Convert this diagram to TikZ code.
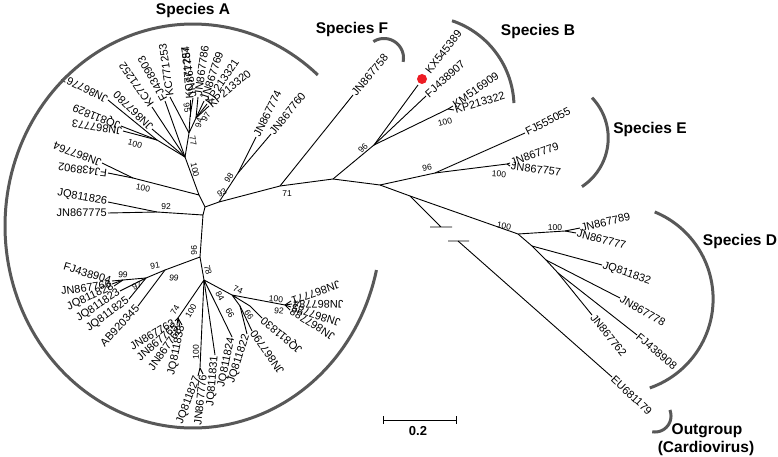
\documentclass[tikz,border=0pt]{standalone}
\usepackage{fontspec}
\setmainfont{Liberation Sans}
\usetikzlibrary{calc}
\definecolor{cladegray}{RGB}{88,88,88}
\definecolor{dotred}{RGB}{237,28,36}
\tikzset{br/.style={line width=0.9pt},
  leaf/.style={font=\fontsize{11}{12}\selectfont,inner sep=1pt},
  boot/.style={font=\fontsize{8.5}{10}\selectfont,inner sep=0pt},
  clade/.style={cladegray,line width=3pt},
  sp/.style={font=\fontsize{15.5}{17}\selectfont\bfseries,inner sep=0pt}}

\begin{document}
\begin{tikzpicture}[x=1pt,y=-1pt]
\useasboundingbox (0,0) rectangle (778,457);
% backbone
\coordinate (rA) at (205,207); \coordinate (n93) at (219,202); \coordinate (n98) at (238,173);
\coordinate (n71) at (280,186); \coordinate (nBE) at (333,179); \coordinate (n96B) at (374,145);
\coordinate (nKM) at (448,109); \coordinate (nE0) at (380,185); \coordinate (n96E) at (435,173);
\coordinate (n100E) at (507,164); \coordinate (nD0) at (410,196); \coordinate (nD) at (518,234);
\coordinate (nD100) at (565,231); \coordinate (nD1) at (532,246); \coordinate (nD2) at (546,260);
\coordinate (nD3) at (558,273);
\coordinate (b1) at (441,227); \coordinate (b1a) at (430,227); \coordinate (b1b) at (452,227);
\coordinate (b2) at (458,241); \coordinate (b2a) at (448,241); \coordinate (b2b) at (469,241);
% species A
\coordinate (nA1) at (199,195); \coordinate (nFJ) at (133,178); \coordinate (nA2) at (185,157);
\coordinate (nL) at (157,140); \coordinate (nA3) at (189,133); \coordinate (nA4) at (190,117);
\coordinate (nA5) at (196,118); \coordinate (nA6) at (203,215); \coordinate (n92) at (157,212);
\coordinate (n96) at (200,257); \coordinate (n91) at (165,270); \coordinate (n97) at (146,278);
\coordinate (n99) at (123,280); \coordinate (n78) at (204,280); \coordinate (n100L) at (178,318);
\coordinate (n100c) at (200,368); \coordinate (n84) at (214,300); \coordinate (n74) at (232,295);
\coordinate (n66a) at (240,306); \coordinate (n66b) at (250,306); \coordinate (nR2) at (285,305);

\draw[br] (rA)--(n93)--(n71)--(nBE)--(nE0)--(nD0)--(nD)--(nD100);
\draw[br] (n93)--(n98) (nBE)--(n96B)--(nKM) (nE0)--(n96E)--(n100E) (nD)--(nD1)--(nD2)--(nD3);
\draw[br] (nD0)--(b1) (b1a)--(b1b) (b2a)--(b2b);
\draw[br] (rA)--(nA1)--(nA2)--(nA3)--(nA4) (nA3)--(nA5) (nA1)--(nFJ) (nA2)--(nL);
\draw[br] (rA)--(nA6)--(n96)--(n78) (nA6)--(n92) (n96)--(n91)--(n97)--(n99);
\draw[br] (n78)--(n100L) (n78)--(n100c) (n78)--(n84) (n78)--(n74)--(nR2) (n74)--(n66a) (n74)--(n66b);

% tips: name/parent/x/y/angle/anchor/label
\foreach \nm/\pa/\px/\py/\rot/\anc/\lab in {
  fj7/n96B/426/96/42/west/FJ438907, km/nKM/453/106/35/west/KM516909, kp/nKM/454/110/16/west/KP213322,
  jn58/n71/353/95/50/west/JN867758,
  fj55/n96E/525/133/27/west/FJ555055, jn79/n100E/510/163/20/west/JN867779, jn57/n100E/510/166/-7/west/JN867757,
  jn89/nD100/580/228/13/west/JN867789, jn77/nD100/576/233/-14/west/JN867777, jq32/nD1/602/265/-19/west/JQ811832,
  jn78/nD2/620/298/-30/west/JN867778, fj08/nD3/637/335/-40/west/FJ438908, jn62/nD3/592/315/-51/west/JN867762,
  eu/b2/612/377/-43/west/EU681179,
  jn64/nFJ/102/163/160/west/JN867764, fj02/nFJ/108/173/173/west/FJ438902,
  jn67/nL/108/100/154/west/JN867767, jq29/nL/121/126/158/west/JQ811829, jn73/nL/123/131/172/west/JN867773,
  jn80/nA2/152/129/136/west/JN867780, kc52/nA2/152/107/125/west/KC771252, fj03/nA2/165/101/119/west/FJ438903,
  kc53/nA3/170/97/98/west/KC771253, kc54/nA4/190/100/95/west/KC771254, jn87/nA4/193/98/99/west/JN867787,
  jn86/nA5/198/97/82/west/JN867786, jn69/nA5/204/101/72/west/JN867769, kp21/nA5/207/104/56/west/KP213321,
  kp20/nA5/209/106/40/west/KP213320,
  jn74/n98/256/137/64/west/JN867774, jn60/n98/271/134/51/west/JN867760,
  jq26/n92/108/202/-10/east/JQ811826, jn75/n92/108/213/0/east/JN867775,
  fj04/n99/112/281/-17/east/FJ438904, jn66/n99/112/284/8/east/JN867766, jq28/n99/114/286/25/east/JQ811828,
  jq23/n97/120/291/34/east/JQ811823, jq25/n97/129/299/36/east/JQ811825, ab45/n91/138/306/47/east/AB920345,
  jn63/n100L/175/321/31/east/JN867763, jn65/n100L/177/325/41/east/JN867765, jn68/n100L/180/327/55/east/JN867768,
  jq33/n100L/182/325/78/east/JQ811833, jq27/n100c/198/376/69/east/JQ811827, jn76/n100c/203/374/84/east/JN867776,
  jq31/n78/215/355/85/east/JQ811831, jq24/n84/232/337/78/east/JQ811824,
  jq22/n66a/247/334/72/east/JQ811822, jn90/n66a/252/331/125/east/JN867790, jq30/n66b/262/318/140/east/JQ811830,
  jn71/nR2/291/301/199/east/JN867771, jn84/nR2/292/304/180/east/JN867784,
  jn85/nR2/291/307/162/east/JN867785, jn88/nR2/290/310/148/east/JN867788}
{\coordinate (\nm) at (\px,\py); \draw[br] (\pa)--(\nm);
 \node[leaf,anchor=\anc,rotate=\rot] (L\nm) at (\nm) {\lab};}

% new sequence
\coordinate (kx) at (418,85); \draw[br] (n96B)--(kx);
\fill[dotred] (422,79) circle (5);
\node[leaf,anchor=west,rotate=52] (Lkx) at (427,73) {KX545389};

% bootstrap values
\foreach \px/\py/\rot/\val [count=\i] in {143/188/-10/100, 135/144/-15/100, 195/170/-78/100, 193/141/-80/77,
  187/108/-80/95, 199/123/75/94, 206/117/60/97, 229/178/55/98, 222/193/30/93, 287/194/0/71,
  363/148/45/96, 445/122/15/100, 427/168/10/96, 499/174/-5/100, 504/226/-10/100, 555/228/0/100,
  166/207/0/92, 194/250/-90/96, 208/270/-75/78, 155/266/10/91, 123/275/-5/99, 137/286/25/97,
  174/278/-10/99, 175/310/60/74, 191/311/60/100, 196/352/90/100, 220/296/-60/84, 230/313/-60/66,
  249/315/-55/66, 238/290/-25/74, 276/299/-5/100, 279/311/-8/92}
  \node[boot,rotate=\rot] (bs\i) at (\px,\py) {\val};

% clade arcs
\draw[clade] plot[domain=-48.4:-347.4,samples=150] ({193+188*cos(\x)},{226+202*sin(\x)});
\draw[clade] plot[domain=-123:11.5,samples=40] ({384+19.5*cos(\x)},{58+19.5*sin(\x)});
\draw[clade] plot[domain=-71.4:-2.5,samples=60] ({423+91*cos(\x)},{107+91*sin(\x)});
\draw[clade] plot[domain=-43.8:56.7,samples=60] ({550+58.2*cos(\x)},{138+58.2*sin(\x)});
\draw[clade] plot[domain=-67.7:70.9,samples=80] ({619+94.1*cos(\x)},{299+94.1*sin(\x)});
\draw[clade] plot[domain=-22:100,samples=40] ({655+16*cos(\x)},{416+16*sin(\x)});

\node[sp] (spA) at (193,10) {Species A};
\node[sp] (spF) at (352,29) {Species F};
\node[sp] (spB) at (538,31) {Species B};
\node[sp] (spE) at (650,129) {Species E};
\node[sp] (spD) at (740,241) {Species D};
\node[sp] (spO) at (707,431) {Outgroup};
\node[sp] (spO2) at (706,448) {(Cardiovirus)};

% scale bar
\coordinate (sbL) at (383,420); \coordinate (sbR) at (456,420);
\draw[br] (sbL)--(sbR) ([yshift=4pt]sbL)--([yshift=-4pt]sbL) ([yshift=4pt]sbR)--([yshift=-4pt]sbR);
\node[font=\fontsize{13}{15}\selectfont\bfseries] (sbT) at (418,431) {0.2};
\end{tikzpicture}
\end{document}
